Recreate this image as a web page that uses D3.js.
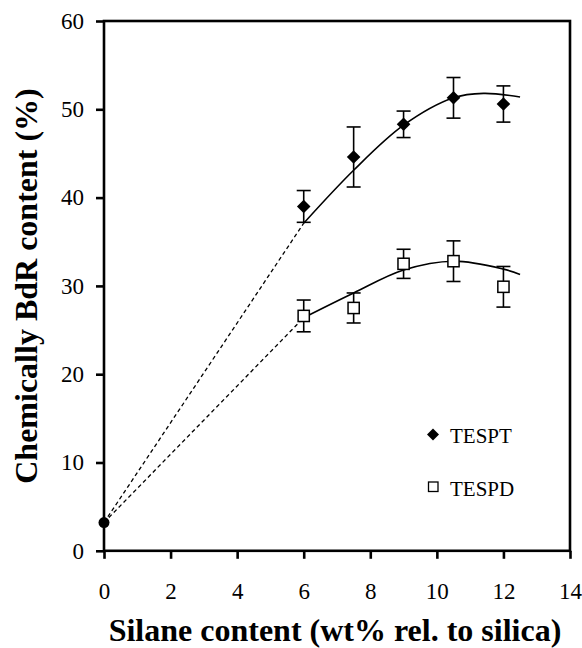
<!DOCTYPE html>
<html>
<head>
<meta charset="utf-8">
<script src="https://cdn.jsdelivr.net/npm/d3@7"></script>
<style>
  html, body { margin: 0; padding: 0; background: #fff; }
  svg { display: block; }
  svg text { font-family: "Liberation Serif", "Times New Roman", Times, Tinos, "Noto Serif", "DejaVu Serif", FreeSerif, serif; }
</style>
</head>
<body>
<svg id="chart" width="582" height="648"></svg>
<script>
// Silane loading (wt% relative to silica)
const silane = [6, 7.5, 9, 10.5, 12];

// Chemically bound rubber content (%) and error half-widths
const tesptValues = [39.0, 44.6, 48.3, 51.3, 50.6];
const tesptErrors = [1.8, 3.4, 1.5, 2.3, 2.05];
const tespdValues = [26.6, 27.5, 32.5, 32.8, 29.9];
const tespdErrors = [1.8, 1.7, 1.65, 2.3, 2.3];

// Reference compound without silane
const baseX = 0;
const baseY = 3.2;

// Fitted trend curves
const tesptFitX = [6, 7.5, 9, 10.5, 11.4, 12.5];
const tesptFitY = [37.1, 43.1, 48.2, 51.3, 51.8, 51.4];
const tespdFitX = [6, 7.5, 9, 10.5, 12, 12.5];
const tespdFitY = [26.4, 29.2, 31.8, 32.8, 31.9, 31.3];

// Axis ticks and labels
const xTicks = [0, 2, 4, 6, 8, 10, 12, 14];
const yTicks = [0, 10, 20, 30, 40, 50, 60];
const seriesNames = ["TESPT", "TESPD"];
const xTitle = "Silane content (wt% rel. to silica)";
const yTitle = "Chemically BdR content (%)";

const svg = d3.select("#chart");
const plotLeft = 104, plotRight = 570, plotTop = 21, plotBottom = 550.8;

const x = d3.scaleLinear().domain([0, 14]).range([plotLeft, plotRight]);
const y = d3.scaleLinear().domain([0, 60]).range([plotBottom, plotTop]);

// Axes
const xAxis = svg.append("g")
  .attr("transform", `translate(0,${plotBottom})`)
  .call(d3.axisBottom(x).tickValues(xTicks).tickSize(8).tickPadding(24).tickSizeOuter(0));
const yAxis = svg.append("g")
  .attr("transform", `translate(${plotLeft},0)`)
  .call(d3.axisLeft(y).tickValues(yTicks).tickSize(8).tickPadding(12).tickSizeOuter(0));

[xAxis, yAxis].forEach(g => {
  g.attr("font-family", null).attr("font-size", 23);
  g.select(".domain").remove();
  g.selectAll(".tick line").attr("stroke", "#000").attr("stroke-width", 2.6);
  g.selectAll(".tick text").attr("fill", "#000");
});

// Plot frame
svg.append("rect")
  .attr("x", plotLeft).attr("y", plotTop)
  .attr("width", plotRight - plotLeft).attr("height", plotBottom - plotTop)
  .attr("fill", "none").attr("stroke", "#000").attr("stroke-width", 2.6);

// Dashed extrapolation from the silane-free compound
const dashed = [[tesptFitX[0], tesptFitY[0]], [tespdFitX[0], tespdFitY[0]]];
svg.append("g").selectAll("line").data(dashed).join("line")
  .attr("x1", x(baseX)).attr("y1", y(baseY))
  .attr("x2", d => x(d[0])).attr("y2", d => y(d[1]))
  .attr("stroke", "#000").attr("stroke-width", 1.3)
  .attr("stroke-dasharray", "4,3");

// Trend curves
const line = d3.line().x(d => x(d[0])).y(d => y(d[1])).curve(d3.curveCatmullRom.alpha(0.5));
[[tesptFitX, tesptFitY], [tespdFitX, tespdFitY]].forEach(([xs, ys]) => {
  svg.append("path")
    .datum(xs.map((v, i) => [v, ys[i]]))
    .attr("d", line)
    .attr("fill", "none").attr("stroke", "#000").attr("stroke-width", 1.6);
});

// Error bars
function errorBars(values, errors) {
  const g = svg.append("g").attr("stroke", "#000").attr("stroke-width", 1.6);
  const d = silane.map((s, i) => ({ s, v: values[i], e: errors[i] }));
  g.selectAll(".stem").data(d).join("line")
    .attr("x1", p => x(p.s)).attr("x2", p => x(p.s))
    .attr("y1", p => y(p.v + p.e)).attr("y2", p => y(p.v - p.e));
  g.selectAll(".capTop").data(d).join("line")
    .attr("x1", p => x(p.s) - 7).attr("x2", p => x(p.s) + 7)
    .attr("y1", p => y(p.v + p.e)).attr("y2", p => y(p.v + p.e));
  g.selectAll(".capBot").data(d).join("line")
    .attr("x1", p => x(p.s) - 7).attr("x2", p => x(p.s) + 7)
    .attr("y1", p => y(p.v - p.e)).attr("y2", p => y(p.v - p.e));
}
errorBars(tesptValues, tesptErrors);
errorBars(tespdValues, tespdErrors);

// Markers
const diamond = r => `M0,${-r}L${r},0L0,${r}L${-r},0Z`;
svg.append("g").selectAll("path").data(silane).join("path")
  .attr("transform", (s, i) => `translate(${x(s)},${y(tesptValues[i])})`)
  .attr("d", diamond(6.8))
  .attr("fill", "#000");

svg.append("g").selectAll("rect").data(silane).join("rect")
  .attr("x", s => x(s) - 5.6)
  .attr("y", (s, i) => y(tespdValues[i]) - 5.6)
  .attr("width", 11.2).attr("height", 11.2)
  .attr("fill", "#fff").attr("stroke", "#000").attr("stroke-width", 1.5);

svg.append("circle")
  .attr("cx", x(baseX)).attr("cy", y(baseY)).attr("r", 5.5)
  .attr("fill", "#000");

// Legend
const legend = svg.append("g");
legend.append("path")
  .attr("transform", "translate(433,434.5)")
  .attr("d", diamond(6))
  .attr("fill", "#000");
legend.append("rect")
  .attr("x", 428.5).attr("y", 482).attr("width", 9.5).attr("height", 9.5)
  .attr("fill", "#fff").attr("stroke", "#000").attr("stroke-width", 1.3);
legend.selectAll("text").data(seriesNames).join("text")
  .attr("x", 450)
  .attr("y", (d, i) => 442.5 + i * 53.5)
  .attr("font-size", 21).attr("fill", "#000")
  .text(d => d);

// Axis titles
svg.append("text")
  .attr("x", 335).attr("y", 641)
  .attr("text-anchor", "middle")
  .attr("font-size", 32).attr("font-weight", "bold")
  .attr("fill", "#000")
  .text(xTitle);

svg.append("text")
  .attr("transform", "translate(37,286) rotate(-90)")
  .attr("text-anchor", "middle")
  .attr("font-size", 32).attr("font-weight", "bold")
  .attr("fill", "#000")
  .text(yTitle);
</script>
</body>
</html>
